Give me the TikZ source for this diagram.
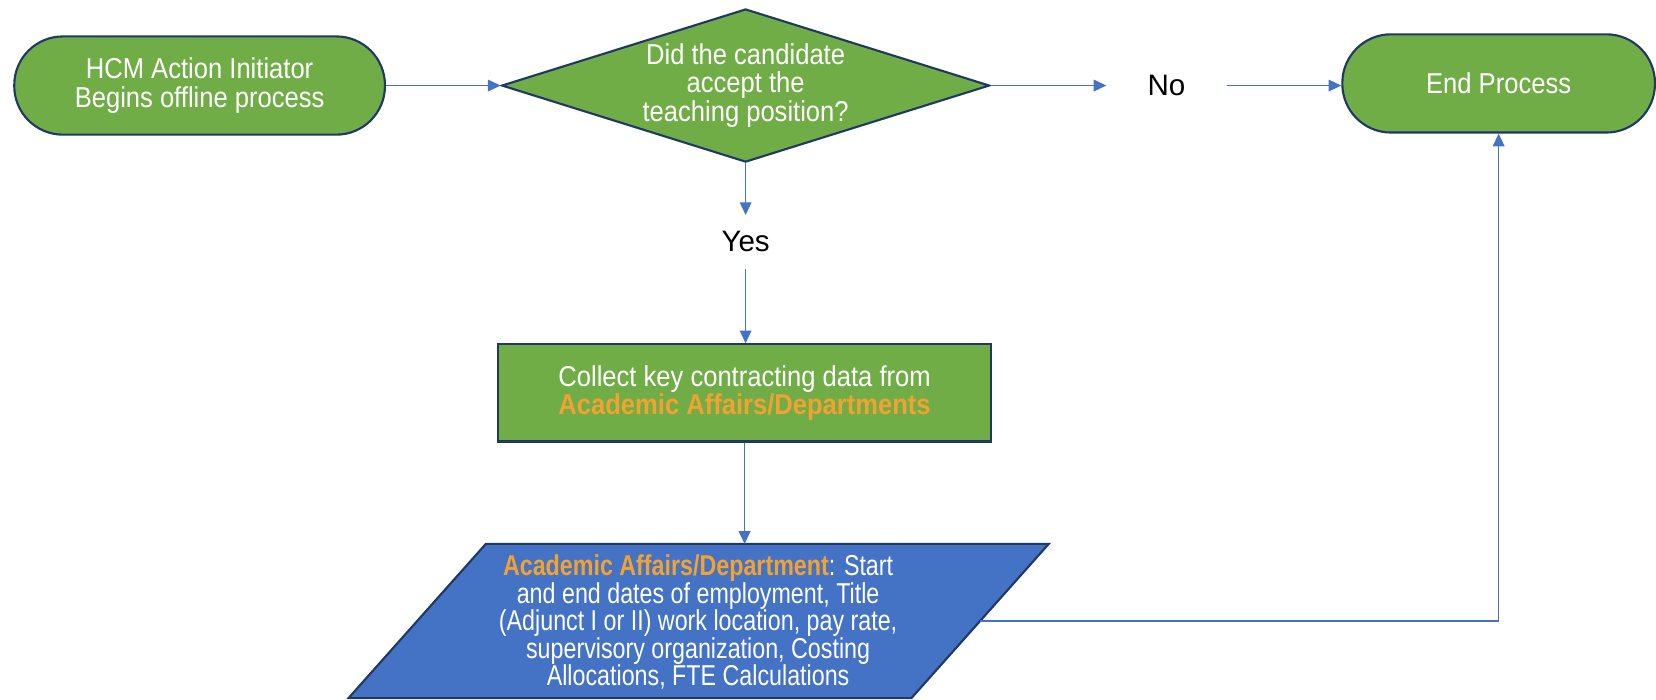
\documentclass[tikz,border=0pt]{standalone}
\usepackage{fontspec}
\setmainfont{Liberation Sans}[FakeStretch=0.89]
\newfontfamily\plainsans{Liberation Sans}
\newfontfamily\condsans{Liberation Sans}[FakeStretch=0.81]
\usetikzlibrary{shapes.geometric,arrows.meta}
\definecolor{fgreen}{HTML}{70AD47}
\definecolor{fnavy}{HTML}{1F3864}
\definecolor{fblue}{HTML}{4472C4}
\definecolor{forange}{HTML}{F2A230}
\begin{document}
\begin{tikzpicture}[x=0.5pt,y=-0.5pt,
  boxtext/.style={text=white, font=\fontsize{13.6}{13.5}\selectfont, align=center},
  term/.style={boxtext, draw=fnavy, line width=1pt, fill=fgreen, rounded corners=23pt, minimum height=46.5pt, inner sep=0pt},
  decision/.style={boxtext, diamond, draw=fnavy, line width=1pt, fill=fgreen, aspect=3.19, minimum width=231pt, minimum height=72.5pt, inner sep=0pt},
  process/.style={boxtext, draw=fnavy, line width=1pt, fill=fgreen, minimum width=233.5pt, minimum height=46pt, inner sep=0pt},
  conn/.style={draw=fblue, line width=0.7pt, -{Triangle[length=6pt,width=5.5pt]}},
  lbl/.style={font=\plainsans\fontsize{14}{16}\selectfont, text=black, inner sep=0pt}
]
\useasboundingbox (0,0) rectangle (1568,662);

\node[term, minimum width=175.5pt] (start) at (189,81) {HCM Action Initiator\\Begins offline process};
\node[decision] (dec) at (706,81) {Did the candidate\\accept the\\teaching position?};
\node[lbl, minimum width=56.5pt] (no) at (1104.5,81) {No};
\node[term, minimum width=148pt] (end) at (1419,79) {End Process};
\node[lbl, minimum height=25pt] (yes) at (706,229) {Yes};
\node[process] (collect) at (705,372) {Collect key contracting data from\\\textbf{\textcolor{forange}{Academic Affairs/Departments}}};

\path[draw=fnavy, line width=1pt, fill=fblue]
  (460,515) -- (993,515) -- (863,661) -- (330,661) -- cycle;
\coordinate (ptop) at (705,515);
\coordinate (pright) at (928,588);
\node[text=white, font=\condsans\fontsize{13.6}{13}\selectfont, align=center, inner sep=0pt] (para) at (661,589)
  {\textbf{\textcolor{forange}{Academic Affairs/Department}}: Start\\and end dates of employment, Title\\(Adjunct I or II) work location, pay rate,\\supervisory organization, Costing\\Allocations, FTE Calculations};

\draw[conn] (start.east) -- (dec.west);
\draw[conn] (dec.east) -- (no.west);
\draw[conn] (no.east) -- (no.east -| end.west);
\draw[conn] (dec.south) -- (yes.north);
\draw[conn] (yes.south) -- (yes.south |- collect.north);
\draw[conn] (collect.south) -- (ptop);
\draw[conn] (pright) -| (end.south);
\end{tikzpicture}
\end{document}
